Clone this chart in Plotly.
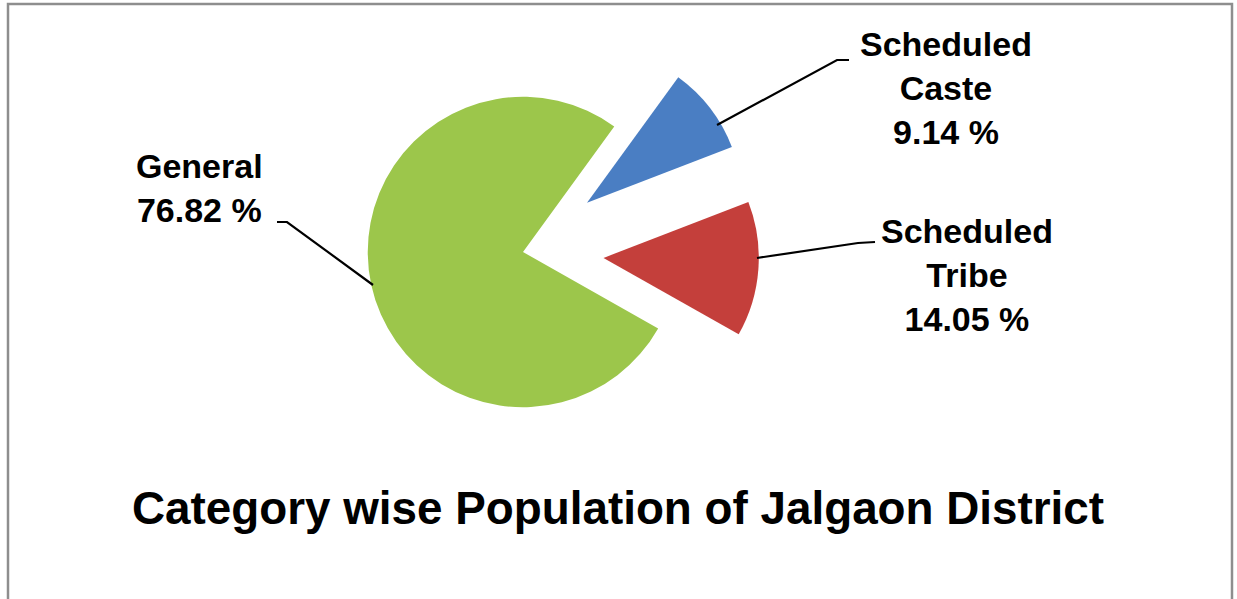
import plotly.graph_objects as go

# ---- data ----
categories = ["Scheduled Caste", "Scheduled Tribe", "General"]
values = [9.14, 14.05, 76.82]
label_lines = [["Scheduled", "Caste"], ["Scheduled", "Tribe"], ["General"]]
colors = ["#4A7EC3", "#C43F3B", "#9CC64B"]
pulls = [0.52, 0.52, 0.0]
title_text = "Category wise Population of Jalgaon District"

W, H = 1237, 599
FONT = "Liberation Sans, Arial, sans-serif"


def px(x):
    return x / W


def py(y):
    return 1 - y / H


fig = go.Figure()
fig.add_trace(go.Pie(
    labels=categories,
    values=values,
    sort=False,
    direction="clockwise",
    rotation=36,
    pull=pulls,
    marker=dict(colors=colors, line=dict(width=0)),
    textinfo="none",
    hoverinfo="skip",
    showlegend=False,
    domain=dict(x=[px(287), px(759)], y=[py(488), py(16)]),
))

# label blocks (centre positions in pixels)
label_pos = [(946, 88), (967, 275), (199, 188)]
annotations = []
for lines, v, (lx, ly) in zip(label_lines, values, label_pos):
    txt = "<br>".join([f"<b>{s}</b>" for s in lines] + [f"<b>{v:.2f} %</b>"])
    annotations.append(dict(
        x=px(lx), y=py(ly), xref="paper", yref="paper",
        text=txt, showarrow=False, xanchor="center", yanchor="middle",
        align="center", font=dict(family=FONT, size=34, color="#000000"),
    ))

annotations.append(dict(
    x=px(618), y=py(508), xref="paper", yref="paper",
    text=f"<b>{title_text}</b>", showarrow=False,
    xanchor="center", yanchor="middle",
    font=dict(family=FONT, size=45.8, color="#000000"),
))

# leader lines (pixel polylines)
leaders = [
    [(717, 125), (837, 60), (849, 60)],
    [(757, 258), (858, 243), (875, 242)],
    [(373, 285), (287, 222), (277, 222)],
]
shapes = []
for pts in leaders:
    path = "M " + " L ".join(f"{px(x):.5f},{py(y):.5f}" for x, y in pts)
    shapes.append(dict(type="path", path=path, xref="paper", yref="paper",
                       line=dict(color="#000000", width=2.2)))

shapes.append(dict(type="rect", xref="paper", yref="paper",
                   x0=px(8), x1=px(1232), y0=-0.1, y1=py(4),
                   line=dict(color="#8E8E8E", width=2.5)))

fig.update_layout(
    width=W, height=H,
    margin=dict(l=0, r=0, t=0, b=0),
    paper_bgcolor="#FFFFFF",
    plot_bgcolor="#FFFFFF",
    annotations=annotations,
    shapes=shapes,
)

fig.write_html("out.html",
               config={"displayModeBar": False},
               post_script="document.body.style.margin='0';document.body.style.overflow='hidden';")
